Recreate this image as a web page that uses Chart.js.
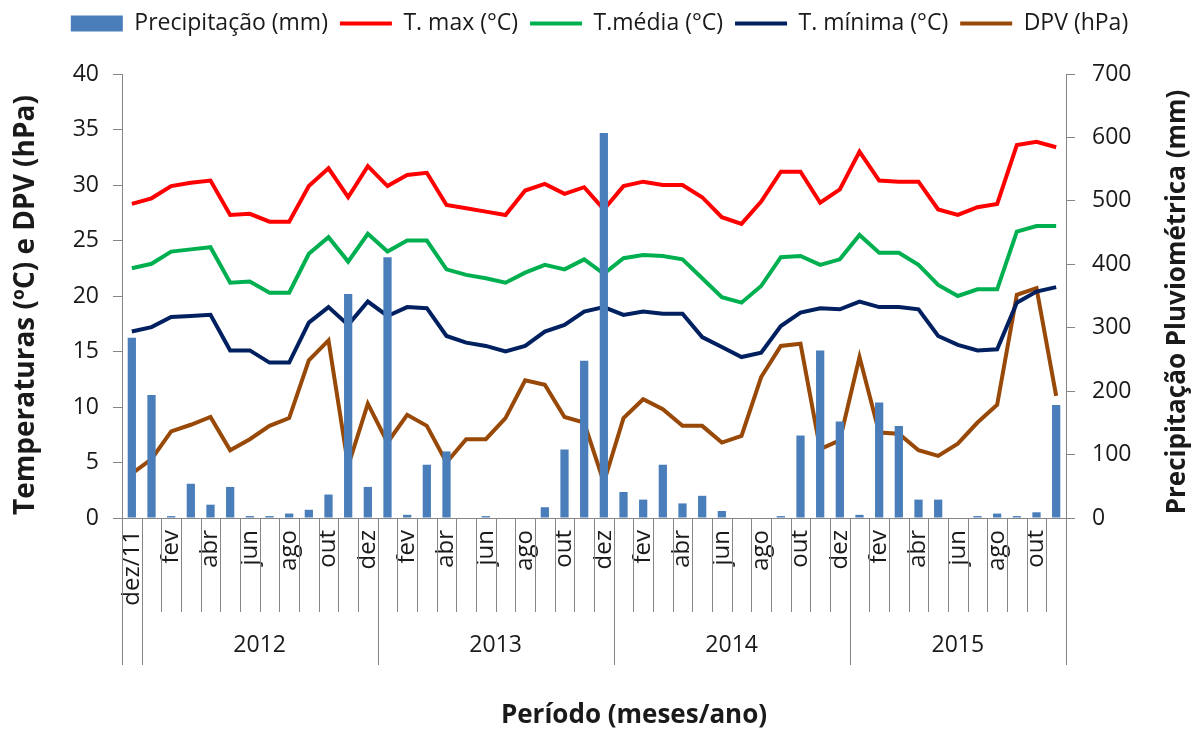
<!DOCTYPE html>
<html>
<head>
<meta charset="utf-8">
<script src="https://cdn.jsdelivr.net/npm/chart.js@4.4.1/dist/chart.umd.min.js"></script>
<style>
  html, body { margin: 0; padding: 0; background: #fff; }
  #wrap { width: 1199px; height: 731px; }
</style>
</head>
<body>
<div id="wrap"><canvas id="climaChart" width="1199" height="731"></canvas></div>
<script>
// meses de dez/11 a nov/15
const meses = ['dez/11',
  'jan','fev','mar','abr','mai','jun','jul','ago','set','out','nov','dez',
  'jan','fev','mar','abr','mai','jun','jul','ago','set','out','nov','dez',
  'jan','fev','mar','abr','mai','jun','jul','ago','set','out','nov','dez',
  'jan','fev','mar','abr','mai','jun','jul','ago','set','out','nov'];

// agrupamento por ano (índice do primeiro e do último mês)
const anos = ['2012', '2013', '2014', '2015'];
const anoInicio = [1, 13, 25, 37];
const anoFim = [12, 24, 36, 47];

const precipitacao = [284, 194, 3, 54, 21, 49, 3, 3, 7, 13, 37, 353, 49,
  411, 5, 84, 105, 0, 3, 0, 0, 17, 108, 248, 607,
  41, 29, 84, 23, 35, 11, 0, 0, 3, 130, 264, 152,
  5, 182, 145, 29, 29, 0, 3, 7, 3, 9, 178];

const tMax = [28.3, 28.8, 29.9, 30.2, 30.4, 27.3, 27.4, 26.7, 26.7, 29.9, 31.5, 28.9, 31.7,
  29.9, 30.9, 31.1, 28.2, 27.9, 27.6, 27.3, 29.5, 30.1, 29.2, 29.8, 27.8,
  29.9, 30.3, 30.0, 30.0, 28.9, 27.1, 26.5, 28.5, 31.2, 31.2, 28.4, 29.6,
  33.0, 30.4, 30.3, 30.3, 27.8, 27.3, 28.0, 28.3, 33.6, 33.9, 33.4];

const tMedia = [22.5, 22.9, 24.0, 24.2, 24.4, 21.2, 21.3, 20.3, 20.3, 23.8, 25.3, 23.1, 25.6,
  24.0, 25.0, 25.0, 22.4, 21.9, 21.6, 21.2, 22.1, 22.8, 22.4, 23.3, 22.0,
  23.4, 23.7, 23.6, 23.3, 21.6, 19.9, 19.4, 20.9, 23.5, 23.6, 22.8, 23.3,
  25.5, 23.9, 23.9, 22.8, 21.0, 20.0, 20.6, 20.6, 25.8, 26.3, 26.3];

const tMin = [16.8, 17.2, 18.1, 18.2, 18.3, 15.1, 15.1, 14.0, 14.0, 17.6, 19.0, 17.4, 19.5,
  18.2, 19.0, 18.9, 16.4, 15.8, 15.5, 15.0, 15.5, 16.8, 17.4, 18.6, 19.0,
  18.3, 18.6, 18.4, 18.4, 16.3, 15.4, 14.5, 14.9, 17.3, 18.5, 18.9, 18.8,
  19.5, 19.0, 19.0, 18.8, 16.4, 15.6, 15.1, 15.2, 19.4, 20.4, 20.8];

const dpv = [4.0, 5.3, 7.8, 8.4, 9.1, 6.1, 7.1, 8.3, 9.0, 14.2, 16.0, 4.7, 10.3,
  6.8, 9.3, 8.3, 5.0, 7.1, 7.1, 9.0, 12.4, 12.0, 9.1, 8.6, 3.2,
  9.0, 10.7, 9.8, 8.3, 8.3, 6.8, 7.4, 12.7, 15.5, 15.7, 6.2, 7.0,
  14.5, 7.7, 7.6, 6.1, 5.6, 6.7, 8.6, 10.2, 20.1, 20.7, 11.0];

const FONTE = "'Open Sans', 'Noto Sans', sans-serif";
const COR_TEXTO = '#1a1a1a';
const COR_EIXO = '#868686';

// linhas de separação do eixo x, anos e títulos dos eixos
const eixoMultinivel = {
  id: 'eixoMultinivel',
  beforeInit(chart) {
    const fitOriginal = chart.legend.fit;
    chart.legend.fit = function () {
      fitOriginal.bind(chart.legend)();
      this.height = 74;
    };
  },
  afterDraw(chart) {
    const ctx = chart.ctx;
    const xs = chart.scales.x;
    const area = chart.chartArea;
    const largura = xs.getPixelForValue(1) - xs.getPixelForValue(0);
    const limite = i => i < meses.length ? xs.getPixelForValue(i) - largura / 2 : xs.right;
    const longos = [0, ...anoInicio, meses.length];

    ctx.save();
    ctx.strokeStyle = COR_EIXO;
    ctx.lineWidth = 1;
    for (let i = 0; i <= meses.length; i++) {
      const x = Math.round(limite(i)) + 0.5;
      ctx.beginPath();
      ctx.moveTo(x, area.bottom);
      ctx.lineTo(x, area.bottom + (longos.includes(i) ? 147 : 94));
      ctx.stroke();
    }

    ctx.fillStyle = COR_TEXTO;
    ctx.font = '23px ' + FONTE;
    ctx.textAlign = 'center';
    ctx.textBaseline = 'middle';
    anos.forEach((ano, k) => {
      const cx = (limite(anoInicio[k]) + limite(anoFim[k] + 1)) / 2;
      ctx.fillText(ano, cx, area.bottom + 127);
    });

    ctx.font = 'bold 26px ' + FONTE;
    ctx.fillText('Período (meses/ano)', 634, 716);

    const meioY = (area.top + area.bottom) / 2 + 9;
    ctx.translate(26, meioY);
    ctx.rotate(-Math.PI / 2);
    ctx.font = 'bold 28px ' + FONTE;
    ctx.fillText('Temperaturas (ºC) e DPV (hPa)', 0, 0);
    ctx.rotate(Math.PI / 2);
    ctx.translate(1178 - 26, -3);
    ctx.rotate(-Math.PI / 2);
    ctx.font = 'bold 26px ' + FONTE;
    ctx.fillText('Precipitação Pluviométrica (mm)', 0, 0);
    ctx.restore();
  }
};

function linha(label, data, cor) {
  return {
    type: 'line',
    label: label,
    data: data,
    yAxisID: 'y',
    borderColor: cor,
    backgroundColor: cor,
    borderWidth: 4,
    pointRadius: 0,
    pointStyle: 'line',
    tension: 0,
    order: 1
  };
}

const ctx = document.getElementById('climaChart').getContext('2d');
new Chart(ctx, {
  type: 'bar',
  data: {
    labels: meses,
    datasets: [
      {
        label: 'Precipitação (mm)',
        data: precipitacao,
        yAxisID: 'y2',
        backgroundColor: '#4A7EBB',
        barPercentage: 0.42,
        categoryPercentage: 1,
        pointStyle: 'rect',
        order: 0
      },
      linha('T. max (°C)', tMax, '#FF0000'),
      linha('T.média (°C)', tMedia, '#00B050'),
      linha('T. mínima (°C)', tMin, '#002060'),
      linha('DPV (hPa)', dpv, '#984807')
    ]
  },
  options: {
    responsive: false,
    animation: false,
    layout: { padding: 0 },
    plugins: {
      legend: {
        position: 'top',
        labels: {
          usePointStyle: true,
          pointStyleWidth: 52,
          boxHeight: 16,
          padding: 12,
          color: COR_TEXTO,
          font: { family: FONTE, size: 23 }
        }
      },
      tooltip: { enabled: false }
    },
    scales: {
      x: {
        grid: { display: false, drawTicks: false },
        border: { display: true, color: COR_EIXO, width: 1 },
        ticks: {
          autoSkip: false,
          minRotation: 90,
          maxRotation: 90,
          padding: 12,
          color: COR_TEXTO,
          font: { family: FONTE, size: 24 },
          callback: function (value, index) {
            return index % 2 === 0 ? meses[index] : '';
          }
        },
        afterFit(scale) { scale.height = 731 - 518; }
      },
      y: {
        position: 'left',
        min: 0,
        max: 40,
        ticks: { stepSize: 5, padding: 14, color: COR_TEXTO, font: { family: FONTE, size: 23 } },
        grid: { drawOnChartArea: false, tickLength: 9, color: COR_EIXO },
        border: { color: COR_EIXO },
        afterFit(scale) { scale.width = 122; }
      },
      y2: {
        position: 'right',
        min: 0,
        max: 700,
        ticks: { stepSize: 100, padding: 17, color: COR_TEXTO, font: { family: FONTE, size: 23 } },
        grid: { drawOnChartArea: false, tickLength: 9, color: COR_EIXO },
        border: { color: COR_EIXO },
        afterFit(scale) { scale.width = 1199 - 1066; }
      }
    }
  },
  plugins: [eixoMultinivel]
});
</script>
</body>
</html>
